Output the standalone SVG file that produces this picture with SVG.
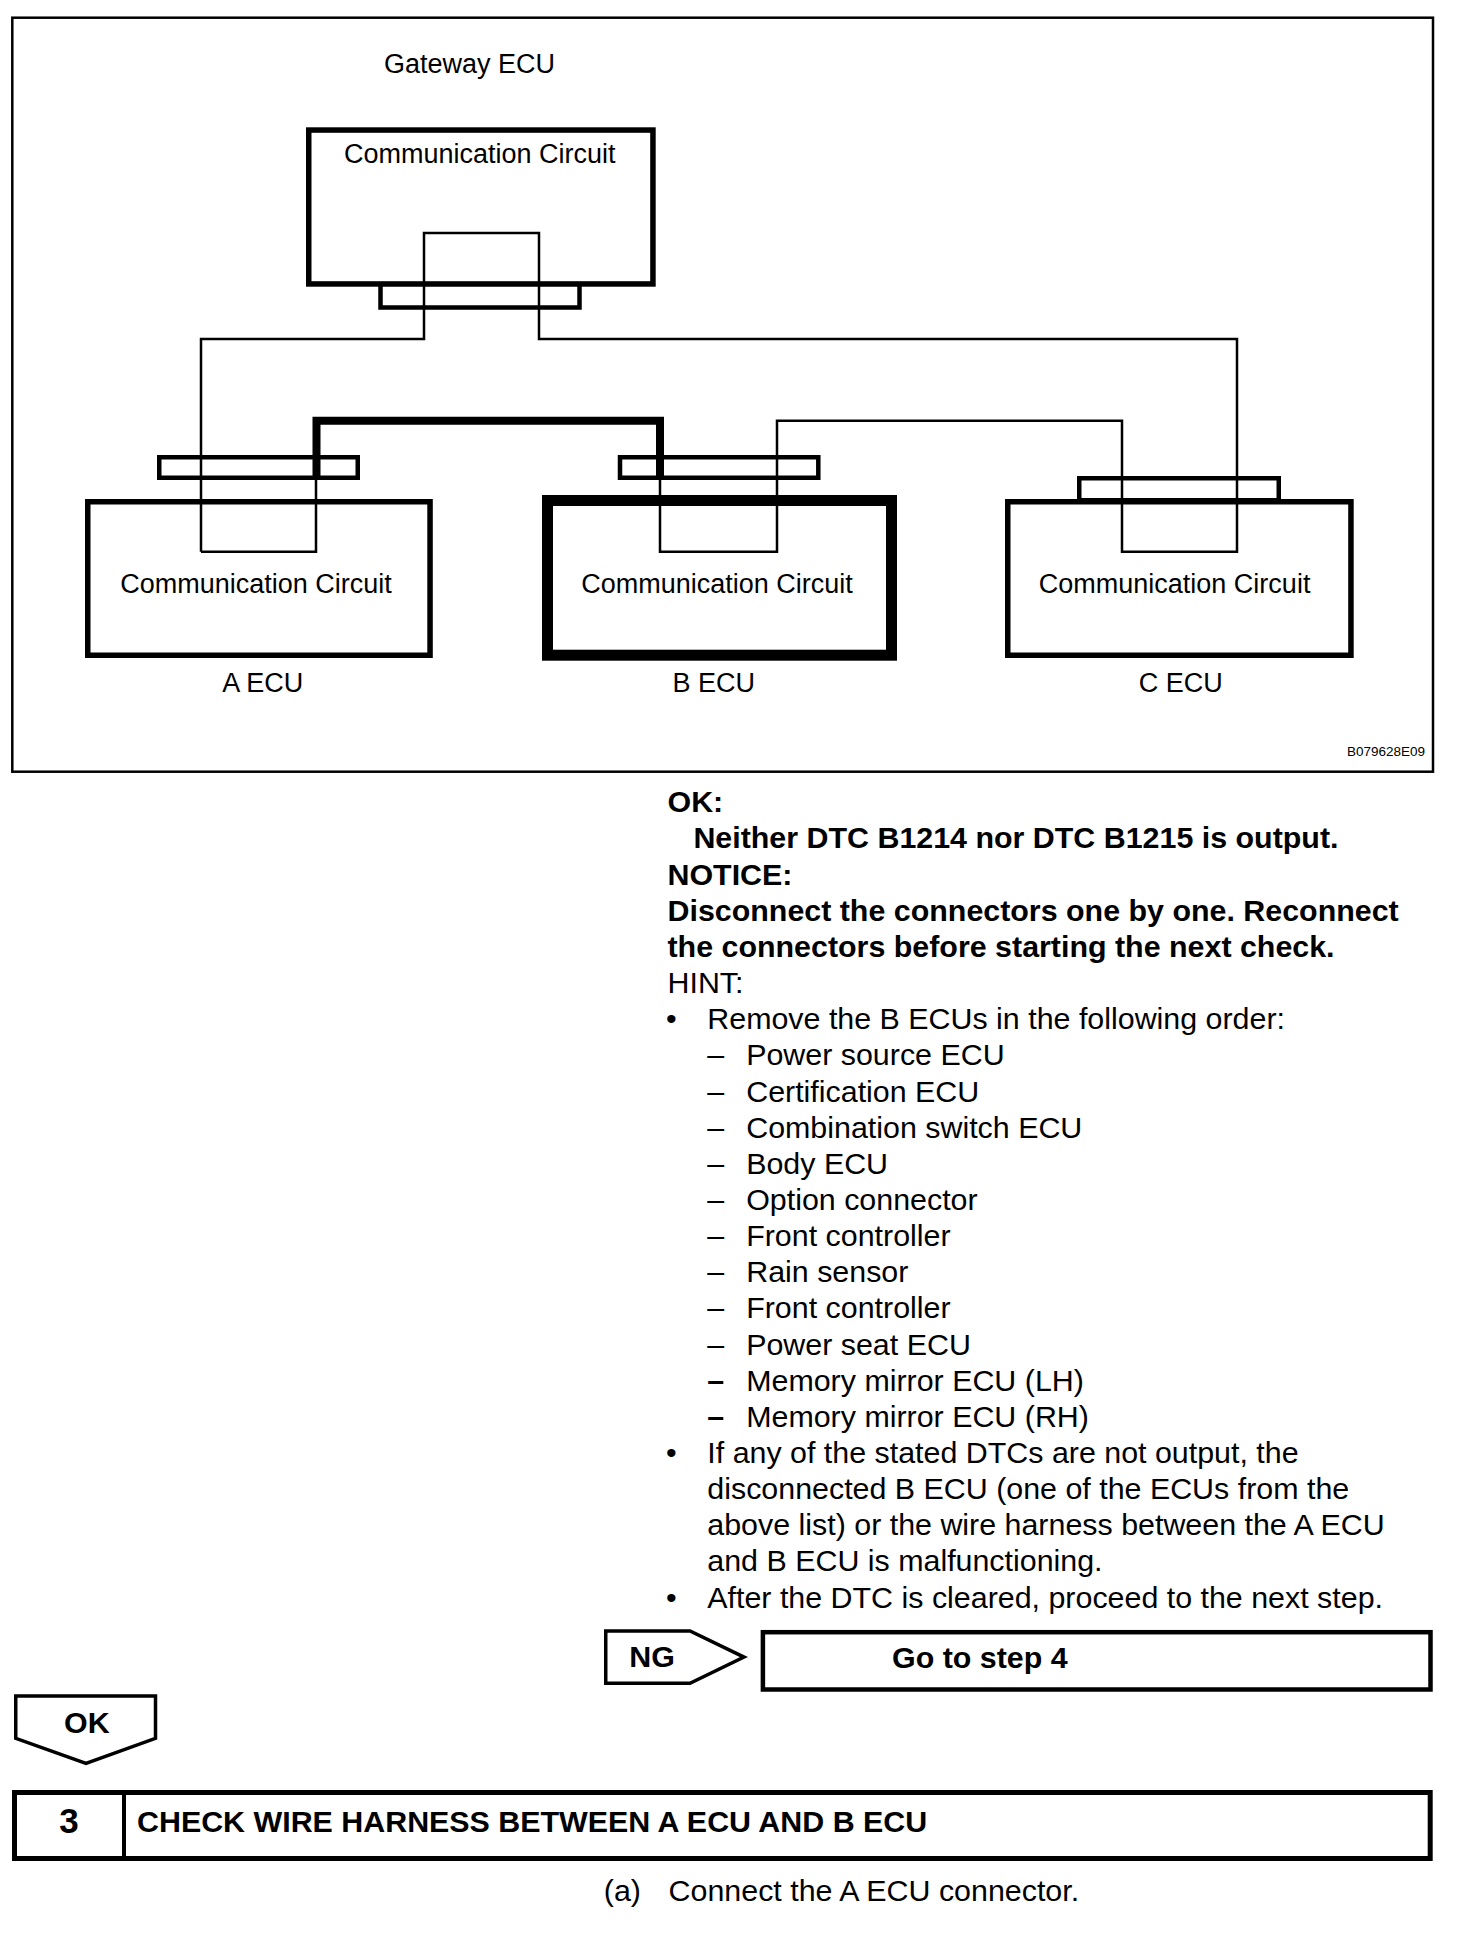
<svg xmlns="http://www.w3.org/2000/svg" width="1472" height="1938" viewBox="0 0 1472 1938">
<style>
  text { font-family: "Liberation Sans", Arial, sans-serif; fill: #000; }
  .lbl { font-size: 27px; text-anchor: middle; }
  .body { font-size: 30.4px; }
  .b { font-size: 30.4px; font-weight: bold; }
  .box { fill: #fff; stroke: #000; stroke-width: 5.5; }
  .boxb { fill: #fff; stroke: #000; stroke-width: 11; }
  .conn { fill: #fff; stroke: #000; stroke-width: 4.5; }
  .wire { fill: none; stroke: #000; stroke-width: 2.5; stroke-linejoin: miter; }
  .thick { fill: none; stroke: #000; stroke-width: 8; stroke-linejoin: miter; }
  .shape { fill: #fff; stroke: #000; stroke-width: 3.5; stroke-linejoin: miter; }
</style>
<rect width="1472" height="1938" fill="#fff"/>

<g id="frame">
  <rect x="12.3" y="17.7" width="1420.7" height="754" fill="none" stroke="#000" stroke-width="2.5"/>
  <text x="1425" y="756" font-size="13.5" text-anchor="end">B079628E09</text>
</g>

<g id="gateway-ecu">
  <text class="lbl" x="469.5" y="72.7">Gateway ECU</text>
  <rect class="box" x="308.75" y="130.05" width="344.2" height="153.9"/>
  <text class="lbl" x="479.7" y="162.7">Communication Circuit</text>
  <rect class="conn" x="380.5" y="284.5" width="199" height="23"/>
</g>

<g id="a-ecu">
  <rect class="conn" x="159.25" y="457.25" width="198.5" height="20.5"/>
  <rect class="box" x="87.75" y="501.75" width="342.3" height="153.5"/>
  <text class="lbl" x="256" y="592.7">Communication Circuit</text>
  <text class="lbl" x="262.7" y="691.7">A ECU</text>
</g>

<g id="b-ecu">
  <rect class="conn" x="620" y="457.25" width="198.3" height="20.5"/>
  <rect class="boxb" x="547.5" y="500.5" width="344" height="154.7"/>
  <text class="lbl" x="717" y="592.7">Communication Circuit</text>
  <text class="lbl" x="713.7" y="691.7">B ECU</text>
</g>

<g id="c-ecu">
  <rect class="conn" x="1079.25" y="478.25" width="199.5" height="22"/>
  <rect class="box" x="1007.75" y="501.75" width="343.2" height="153.5"/>
  <text class="lbl" x="1174.6" y="592.7">Communication Circuit</text>
  <text class="lbl" x="1180.8" y="691.7">C ECU</text>
</g>

<g id="connectors">
  <path class="wire" d="M201,551.7 V339 H424 V233 H539 V339 H1237 V551.7 H1122 V420.8 H777 V551.7 H660 V470"/>
  <path class="wire" d="M201,551.7 H316 V470"/>
  <path class="thick" d="M316.5,480 V420.8 H660 V480"/>
</g>

<g id="notes">
  <text class="b" x="667.5" y="812.3">OK:</text>
  <text class="b" x="693.4" y="848.45">Neither DTC B1214 nor DTC B1215 is output.</text>
  <text class="b" x="667.5" y="884.6">NOTICE:</text>
  <text class="b" x="667.5" y="920.75">Disconnect the connectors one by one. Reconnect</text>
  <text class="b" x="667.5" y="956.9">the connectors before starting the next check.</text>
  <text class="body" x="667.5" y="993.05">HINT:</text>
  <text class="body" x="666" y="1029.2">•</text>
  <text class="body" x="707.3" y="1029.2">Remove the B ECUs in the following order:</text>
  <text class="body" x="707.3" y="1065.35">–</text><text class="body" x="746.2" y="1065.35">Power source ECU</text>
  <text class="body" x="707.3" y="1101.5">–</text><text class="body" x="746.2" y="1101.5">Certification ECU</text>
  <text class="body" x="707.3" y="1137.65">–</text><text class="body" x="746.2" y="1137.65">Combination switch ECU</text>
  <text class="body" x="707.3" y="1173.8">–</text><text class="body" x="746.2" y="1173.8">Body ECU</text>
  <text class="body" x="707.3" y="1209.95">–</text><text class="body" x="746.2" y="1209.95">Option connector</text>
  <text class="body" x="707.3" y="1246.1">–</text><text class="body" x="746.2" y="1246.1">Front controller</text>
  <text class="body" x="707.3" y="1282.25">–</text><text class="body" x="746.2" y="1282.25">Rain sensor</text>
  <text class="body" x="707.3" y="1318.4">–</text><text class="body" x="746.2" y="1318.4">Front controller</text>
  <text class="body" x="707.3" y="1354.55">–</text><text class="body" x="746.2" y="1354.55">Power seat ECU</text>
  <text class="b" x="707.3" y="1390.7">–</text><text class="body" x="746.2" y="1390.7">Memory mirror ECU (LH)</text>
  <text class="b" x="707.3" y="1426.85">–</text><text class="body" x="746.2" y="1426.85">Memory mirror ECU (RH)</text>
  <text class="body" x="666" y="1463">•</text>
  <text class="body" x="707.3" y="1463">If any of the stated DTCs are not output, the</text>
  <text class="body" x="707.3" y="1499.15">disconnected B ECU (one of the ECUs from the</text>
  <text class="body" x="707.3" y="1535.3">above list) or the wire harness between the A ECU</text>
  <text class="body" x="707.3" y="1571.45">and B ECU is malfunctioning.</text>
  <text class="body" x="666" y="1607.6">•</text>
  <text class="body" x="707.3" y="1607.6">After the DTC is cleared, proceed to the next step.</text>
</g>

<g id="ng-tag">
  <polygon class="shape" points="605.75,1631 690,1631 744,1657.1 690,1683.25 605.75,1683.25"/>
  <text class="b" x="629.3" y="1666.7" font-size="29">NG</text>
</g>

<g id="goto-step4">
  <rect x="762.9" y="1632.2" width="667.6" height="57.3" fill="#fff" stroke="#000" stroke-width="4.5"/>
  <text class="b" x="892" y="1668">Go to step 4</text>
</g>

<g id="ok-tag">
  <polygon class="shape" points="15.75,1696 155.5,1696 155.5,1738.3 86,1763.5 15.75,1738.3"/>
  <text class="b" x="64" y="1733.3" font-size="29">OK</text>
</g>

<g id="step3">
  <rect x="14.5" y="1792.5" width="1415.7" height="66" fill="#fff" stroke="#000" stroke-width="5"/>
  <line x1="124" y1="1792.5" x2="124" y2="1858.5" stroke="#000" stroke-width="4"/>
  <text class="b" x="69" y="1833" style="font-size:35px" text-anchor="middle">3</text>
  <text class="b" x="137" y="1832" style="font-size:30.4px">CHECK WIRE HARNESS BETWEEN A ECU AND B ECU</text>
</g>

<g id="step-a">
  <text class="body" x="603.8" y="1901">(a)</text>
  <text class="body" x="668.6" y="1901">Connect the A ECU connector.</text>
</g>
</svg>
